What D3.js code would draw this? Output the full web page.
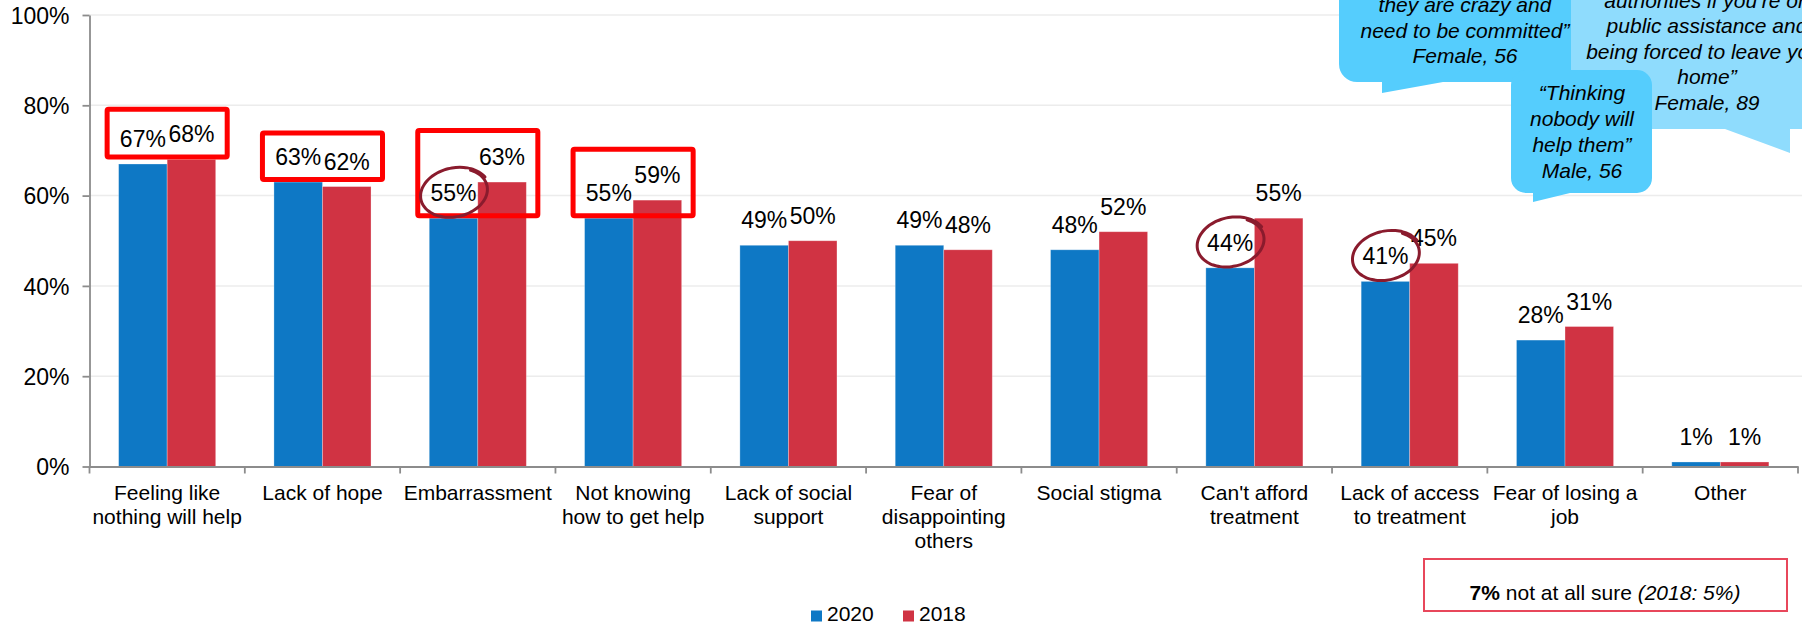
<!DOCTYPE html>
<html><head><meta charset="utf-8">
<script src="https://cdn.jsdelivr.net/npm/d3@7"></script>
<style>
body{margin:0;background:#fff}
svg{display:block}
text{font-family:"Liberation Sans",Arial,Helvetica,sans-serif;fill:#000}
</style>
</head><body>
<svg id="chart" width="1802" height="625"></svg>
<script>
// ---------- data ----------
const categories = [
  "Feeling like\nnothing will help", "Lack of hope", "Embarrassment",
  "Not knowing\nhow to get help", "Lack of social\nsupport",
  "Fear of\ndisappointing\nothers", "Social stigma", "Can't afford\ntreatment",
  "Lack of access\nto treatment", "Fear of losing a\njob", "Other"
];
const seriesNames = ["2020", "2018"];
const values2020 = [67, 63, 55, 55, 49, 49, 48, 44, 41, 28, 1];
const values2018 = [68, 62, 63, 59, 50, 48, 52, 55, 45, 31, 1];
const yTicks = [0, 20, 40, 60, 80, 100];

// highlighted categories (boxes, in value units) and circled 2020 labels
const boxCategories = [0, 1, 2, 3];
const boxTop = [79.7, 74.4, 75.0, 70.8];
const boxBottom = [68, 63, 55, 55];
const circledCategories = [2, 7, 8];

const noteBold = "7%";
const noteText = " not at all sure ";
const noteItalic = "(2018: 5%)";

const quoteLeft = ["they are crazy and", "need to be committed\u201d", "Female, 56"];
const quoteRight = ["authorities if you\u2019re on", "public assistance and", "being forced to leave your", "home\u201d", "Female, 89"];
const quoteMiddle = ["\u201cThinking", "nobody will", "help them\u201d", "Male, 56"];

// ---------- setup ----------
const colors = {"2020": "#0e78c5", "2018": "#d03343"};
const svg = d3.select("#chart");
const plotLeft = 89.5, plotRight = 1798, plotTop = 15, plotBottom = 466.5;

const x = d3.scaleBand().domain(categories).range([plotLeft, plotRight]).paddingInner(0).paddingOuter(0);
const bw = x.bandwidth();
const xs = d3.scaleBand().domain(seriesNames).range([0.1875 * bw, 0.8125 * bw]);
const y = d3.scaleLinear().domain([0, 100]).range([plotBottom, plotTop]);

const rows = categories.map((c, i) => ({cat: c, i, vals: [
  {s: "2020", v: values2020[i]}, {s: "2018", v: values2018[i]}
]}));

// gridlines
svg.append("g").selectAll("line").data(yTicks.filter(d => d > 0)).join("line")
  .attr("x1", plotLeft).attr("x2", 1802)
  .attr("y1", d => y(d)).attr("y2", d => y(d))
  .attr("stroke", "#ececec").attr("stroke-width", 1.5);

// bars
const g = svg.append("g").selectAll("g").data(rows).join("g")
  .attr("transform", d => `translate(${x(d.cat)},0)`);
g.selectAll("rect").data(d => d.vals).join("rect")
  .attr("x", d => xs(d.s)).attr("width", xs.bandwidth())
  .attr("y", d => y(d.v)).attr("height", d => y(0) - y(d.v))
  .attr("fill", d => colors[d.s])
  .attr("stroke", "rgba(255,255,255,0.35)").attr("stroke-width", 0.8);

// value labels
g.selectAll("text.val").data(d => d.vals).join("text").attr("class", "val")
  .attr("x", d => xs(d.s) + xs.bandwidth() / 2)
  .attr("y", d => y(d.v) - 17)
  .attr("text-anchor", "middle").attr("font-size", 23)
  .text(d => d.v + "%");

// y axis
const yAxis = svg.append("g").attr("transform", `translate(${plotLeft},0)`)
  .call(d3.axisLeft(y).tickValues(yTicks).tickFormat(d => d + "%").tickSize(7).tickSizeOuter(0).tickPadding(13));
yAxis.select(".domain").attr("stroke", "#8c8c8c").attr("stroke-width", 1.8);
yAxis.selectAll(".tick line").attr("stroke", "#8c8c8c").attr("stroke-width", 1.8);
yAxis.selectAll(".tick text").attr("font-size", 23).attr("font-family", "Liberation Sans, Arial, sans-serif").attr("fill", "#000").attr("dy", "0.36em");

// x axis
const xAxis = svg.append("g").attr("transform", `translate(0,${plotBottom})`)
  .call(d3.axisBottom(x).tickSize(0).tickSizeOuter(0).tickFormat(""));
xAxis.select(".domain").attr("stroke", "#8c8c8c").attr("stroke-width", 2.2);
xAxis.selectAll(".tick text").remove();
const bounds = categories.map(c => x(c)).concat([x(categories[categories.length - 1]) + bw]);
xAxis.selectAll("line.sep").data(bounds).join("line").attr("class", "sep")
  .attr("x1", d => d).attr("x2", d => d).attr("y1", 0).attr("y2", 7)
  .attr("stroke", "#8c8c8c").attr("stroke-width", 1.8);

// category labels
const cl = svg.append("g").selectAll("text").data(categories).join("text")
  .attr("text-anchor", "middle").attr("font-size", 21)
  .attr("x", d => x(d) + bw / 2).attr("y", 500);
cl.selectAll("tspan").data(d => d.split("\n")).join("tspan")
  .attr("x", function() { return d3.select(this.parentNode).attr("x"); })
  .attr("dy", (d, i) => i === 0 ? 0 : 24)
  .text(d => d);

// highlight boxes
const bx = svg.append("g");
boxCategories.forEach((ci, k) => {
  const c = categories[ci];
  const x0 = x(c) + xs("2020") - 14, x1 = x(c) + xs("2018") + xs.bandwidth() + 14;
  const y0 = y(boxTop[k]), y1 = y(boxBottom[k]);
  bx.append("rect").attr("x", x0 + 2.5).attr("y", y0 + 2.5)
    .attr("width", x1 - x0 - 5).attr("height", y1 - y0 - 5)
    .attr("rx", 1.5)
    .attr("fill", "none").attr("stroke", "#ff0000").attr("stroke-width", 5);
});

// hand-drawn circles around 2020 labels
const circ = svg.append("g");
circledCategories.forEach(ci => {
  const c = categories[ci];
  const cx = x(c) + xs("2020") + xs.bandwidth() / 2 + 1;
  const cy = y(values2020[ci]) - 17 - 8.5;
  const pts = d3.range(0, 1.0001, 1 / 60).map(t => {
    const a = -0.9 + t * (2 * Math.PI + 0.55);
    const k = 1 + 0.07 * t;
    const ex = 33 * k * Math.cos(a), ey = 23.5 * k * Math.sin(a);
    const r = -0.22;
    return [cx + ex * Math.cos(r) - ey * Math.sin(r), cy + ex * Math.sin(r) + ey * Math.cos(r)];
  });
  circ.append("path").attr("d", d3.line().curve(d3.curveBasis)(pts))
    .attr("fill", "none").attr("stroke", "#8a1b2d").attr("stroke-width", 3)
    .attr("stroke-linecap", "round");
});

// callouts
const co = svg.append("g");
const medium = "#55cdfd", light = "#8fdcfd";
co.append("path").attr("fill", light)
  .attr("d", "M1571,-60 L1571,129 L1725,129 L1790,153 L1790,129 L1815,129 L1815,-60 Z");
function addLines(lines, cx, y0, step) {
  const t = co.append("text").attr("text-anchor", "middle").attr("font-size", 21).attr("font-style", "italic");
  lines.forEach((l, i) => t.append("tspan").attr("x", cx).attr("y", y0 + i * step).text(l));
}
addLines(quoteRight, 1707, 7.5, 25.5);
co.append("path").attr("fill", medium)
  .attr("d", "M1339,-60 L1571,-60 L1571,82 L1443,82 L1382,93 L1382,82 L1357,82 A18,18 0 0 1 1339,64 Z");
addLines(quoteLeft, 1465, 12, 25.5);
co.append("path").attr("fill", medium)
  .attr("d", "M1526,70 L1637,70 A15,15 0 0 1 1652,85 L1652,178 A15,15 0 0 1 1637,193 L1570,193 L1533,202 L1533,193 L1526,193 A15,15 0 0 1 1511,178 L1511,85 A15,15 0 0 1 1526,70 Z");
addLines(quoteMiddle, 1582, 100, 26);

// note box
svg.append("rect").attr("x", 1424).attr("y", 559).attr("width", 363).attr("height", 52)
  .attr("fill", "#fff").attr("stroke", "#e8475b").attr("stroke-width", 2);
const nt = svg.append("text").attr("x", 1605).attr("y", 600).attr("text-anchor", "middle").attr("font-size", 21);
nt.append("tspan").attr("font-weight", "bold").text(noteBold);
nt.append("tspan").text(noteText);
nt.append("tspan").attr("font-style", "italic").text(noteItalic);

// legend
const lg = svg.append("g");
const legendX = [811, 903];
seriesNames.forEach((s, i) => {
  lg.append("rect").attr("x", legendX[i]).attr("y", 610.5).attr("width", 11).attr("height", 11).attr("fill", colors[s]);
  lg.append("text").attr("x", legendX[i] + 16).attr("y", 621).attr("font-size", 21).text(s);
});
</script>
</body></html>
